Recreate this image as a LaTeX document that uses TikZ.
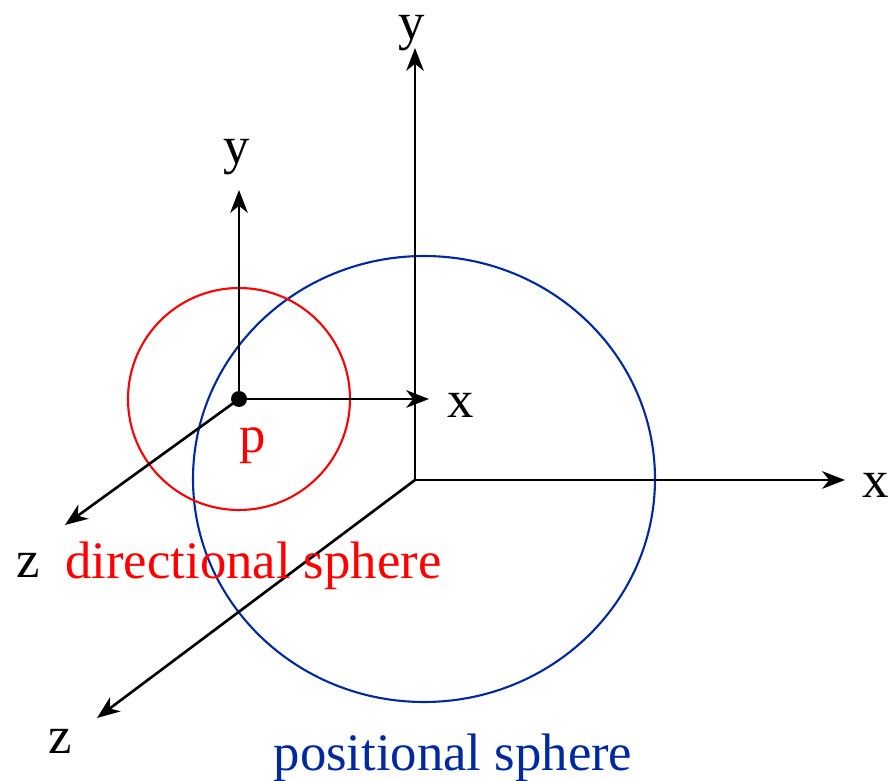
\documentclass[tikz,border=0pt]{standalone}
\usepackage{fontspec}
\setmainfont{Liberation Serif}
\usetikzlibrary{arrows.meta}
\definecolor{sphred}{RGB}{255,0,0}
\definecolor{sphblue}{RGB}{0,40,160}

\begin{document}
\begin{tikzpicture}[x=0.02cm, y=-0.02cm,
		every node/.style={font=\fontsize{30}{36}\selectfont, inner sep=0pt},
		axis/.style={line width=1.5pt, -{Stealth[length=13pt, width=10pt, inset=4pt]}},
		sphere/.style={line width=1.2pt}]
					\useasboundingbox (0,0) rectangle (894,781);
					% positional frame
					\coordinate (o) at (415,480);
					\node[anchor=base] (ly) at (412,39) {y};
					\node[anchor=base] (lx) at (876,497) {x};
					\node[anchor=base] (lz) at (60,753) {z};
					\coordinate (ey) at (415,48);
					\coordinate (ex) at (845,480);
					\coordinate (ez) at (97,718);
					\draw[sphere, sphblue] (424,479) ellipse [x radius=231, y radius=223];
					\draw[axis] (o) -- (ey);
					\draw[axis] (o) -- (ex);
					\draw[axis] (o) -- (ez);
					% directional frame at p
					\coordinate (p) at (239,399);
					\draw[sphere, sphred] (p) circle [radius=111];
					\node[anchor=base] (sy) at (237,163) {y};
					\node[anchor=base] (sx) at (461,417) {x};
					\node[anchor=base] (sz) at (28,577) {z};
					\coordinate (fy) at (239,190);
					\coordinate (fx) at (429,399);
					\coordinate (fz) at (65,525);
					\draw[axis] (p) -- (fy);
					\draw[axis] (p) -- (fx);
					\draw[axis] (p) -- (fz);
					\fill (p) circle [radius=8];
					\node[anchor=base, text=sphred] (lp) at (253,452) {p};
					\node[anchor=base west, text=sphred] (ld) at (65,578) {directional sphere};
					\node[anchor=base, text=sphblue] (lpos) at (453,770) {positional sphere};
				\end{tikzpicture}
\end{document}
